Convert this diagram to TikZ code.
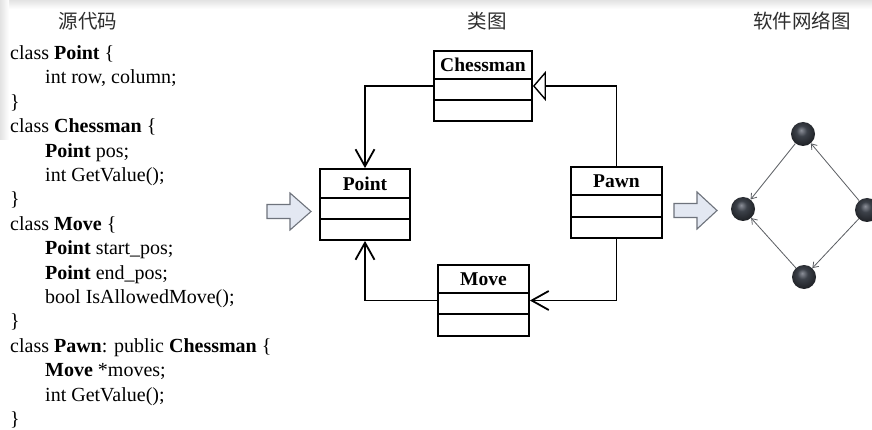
\documentclass[tikz,border=0pt]{standalone}
\usepackage{fontspec}
\setmainfont{Liberation Serif}
\newfontfamily\cjk{Noto Sans CJK SC}
\usetikzlibrary{arrows.meta}

\definecolor{arrowfill}{HTML}{E3E8F2}
\definecolor{arrowline}{HTML}{6E737C}
\definecolor{ballhi}{HTML}{8C9099}
\definecolor{ballcol}{HTML}{3C4149}
\definecolor{balledge}{HTML}{1B1D21}
\definecolor{edgecol}{HTML}{5A5D62}
\definecolor{titlecol}{HTML}{2E2E2E}

% dark sphere used for the network vertices
\pgfdeclareradialshading{netball}{\pgfpoint{-4bp}{8bp}}{%
  color(0bp)=(ballhi); color(11bp)=(ballcol); color(30bp)=(balledge); color(50bp)=(balledge)}

\tikzset{
  code/.style={anchor=base west, inner sep=0pt, font=\fontsize{20}{24}\selectfont},
  title/.style={inner sep=0pt, font=\cjk\fontsize{19.5}{22}\selectfont, text=titlecol},
  umlbox/.style={draw, line width=1.8pt, inner sep=0pt, fill=white},
  umlname/.style={inner sep=0pt, font=\bfseries\fontsize{19.5}{22}\selectfont},
  divider/.style={line width=1.8pt},
  assoc/.style={line width=1.8pt, -{Straight Barb[length=17pt,width=19pt]}},
  inherit/.style={line width=1.8pt, -{Triangle[open,length=13pt,width=30pt,fill=white,line width=1.4pt]}},
  blockarrow/.style={draw=arrowline, fill=arrowfill, line width=1.1pt, line join=miter},
  netnode/.style={circle, minimum size=24pt, inner sep=0pt, shading=netball},
  netedge/.style={draw=edgecol, line width=0.8pt, -{Straight Barb[length=5pt,width=7pt]}},
}

% one line of the source listing: name, line number, indent, text
\newcommand\codeln[4]{\node[code] (#1) at (#3, {59.5+24.4*(#2-1)}) {#4};}

\begin{document}
\begin{tikzpicture}[x=1pt, y=-1pt]
\clip (0,0) rectangle (872,430);
\fill[white] (0,0) rectangle (872,430);
\shade[top color=gray!22, bottom color=white] (0,0) rectangle (872,9);
\shade[left color=gray!22, right color=white] (0,0) rectangle (9,140);

% column headings
\node[title] (t1) at (88,21) {源代码};
\node[title] (t2) at (487,21) {类图};
\node[title] (t3) at (802,21) {软件网络图};

% source listing
\codeln{c1}{1}{10}{class \textbf{Point} \{}
\codeln{c2}{2}{45}{int row, column;}
\codeln{c3}{3}{10}{\}}
\codeln{c4}{4}{10}{class \textbf{Chessman} \{}
\codeln{c5}{5}{45}{\textbf{Point} pos;}
\codeln{c6}{6}{45}{int GetValue();}
\codeln{c7}{7}{10}{\}}
\codeln{c8}{8}{10}{class \textbf{Move} \{}
\codeln{c9}{9}{45}{\textbf{Point} start\_pos;}
\codeln{c10}{10}{45}{\textbf{Point} end\_pos;}
\codeln{c11}{11}{45}{bool IsAllowedMove();}
\codeln{c12}{12}{10}{\}}
\codeln{c13}{13}{10}{class \textbf{Pawn}: public \textbf{Chessman} \{}
\codeln{c14}{14}{45}{\textbf{Move} *moves;}
\codeln{c15}{15}{45}{int GetValue();}
\codeln{c16}{16}{10}{\}}

% block arrows between the panels
\draw[blockarrow] (267,204.5) -- (290,204.5) -- (290,193) -- (311,211.5)
  -- (290,230) -- (290,218.5) -- (267,218.5) -- cycle;
\draw[blockarrow] (674,203.5) -- (697,203.5) -- (697,192) -- (717,210.5)
  -- (697,229) -- (697,217.5) -- (674,217.5) -- cycle;

% class diagram
\node[umlbox, minimum width=98pt, minimum height=70pt] (chessman) at (483,86) {};
\node[umlname] (chessmanname) at (483,65) {Chessman};
\draw[divider] (434,79) -- (532,79);
\draw[divider] (434,100) -- (532,100);

\node[umlbox, minimum width=90pt, minimum height=71pt] (point) at (365,204.5) {};
\node[umlname] (pointname) at (365,183.5) {Point};
\draw[divider] (320,198) -- (410,198);
\draw[divider] (320,219) -- (410,219);

\node[umlbox, minimum width=91pt, minimum height=71pt] (pawn) at (616.5,202.5) {};
\node[umlname] (pawnname) at (616.5,181) {Pawn};
\draw[divider] (571,195) -- (662,195);
\draw[divider] (571,217) -- (662,217);

\node[umlbox, minimum width=91pt, minimum height=71pt] (move) at (483.5,300.5) {};
\node[umlname] (movename) at (483.5,279) {Move};
\draw[divider] (438,293) -- (529,293);
\draw[divider] (438,314) -- (529,314);

\draw[assoc] (chessman.west) -| (point.north);
\draw[inherit] (pawn.north) |- (chessman.east);
\draw[assoc] (pawn.south) |- (move.east);
\draw[assoc] (move.west) -| (point.south);

% software network
\node[netnode] (ntop) at (803,134) {};
\node[netnode] (nleft) at (743,209) {};
\node[netnode] (nright) at (867,210) {};
\node[netnode] (nbot) at (804,277) {};
\draw[netedge] (ntop) -- (nleft);
\draw[netedge] (nright) -- (ntop);
\draw[netedge] (nbot) -- (nleft);
\draw[netedge] (nright) -- (nbot);
\end{tikzpicture}
\end{document}
